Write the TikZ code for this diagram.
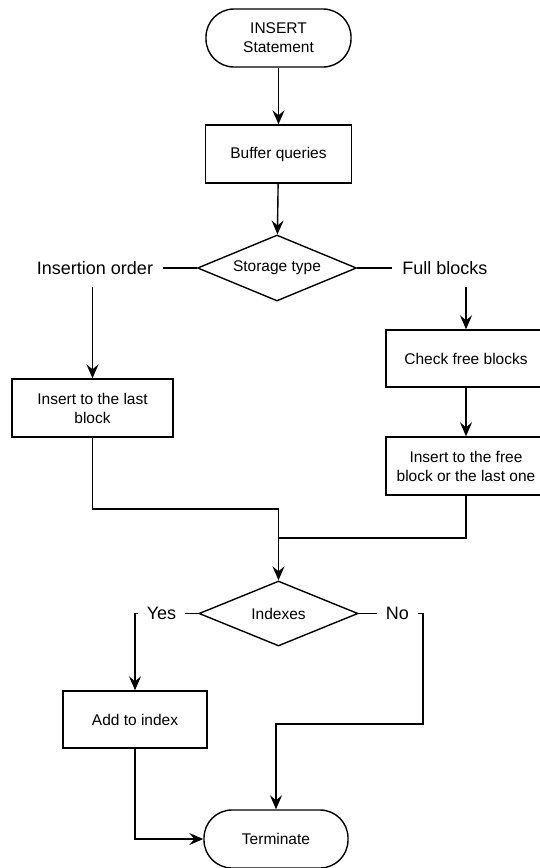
\documentclass[tikz,border=0pt]{standalone}
\usepackage{fontspec}
\setmainfont{Liberation Sans}
\usetikzlibrary{shapes.geometric,arrows.meta}
\begin{document}
\begin{tikzpicture}[x=1pt,y=-1pt,
  every node/.style={font=\fontsize{15.5}{19}\selectfont, align=center, inner sep=0pt},
  box/.style={draw, line width=1.4pt, minimum height=58pt},
  term/.style={draw, line width=1.4pt, rounded corners=28pt, minimum height=58pt},
  dec/.style={draw, line width=1.4pt, diamond, shape aspect=2.4, minimum width=159pt, minimum height=66pt, inner sep=0pt},
  lbl/.style={fill=white, font=\fontsize{18}{21}\selectfont, inner xsep=10pt, minimum height=38pt},
  ln/.style={line width=1.4pt},
  arr/.style={ln, -{Stealth[length=14pt,width=12pt,inset=5pt]}}]
\useasboundingbox (0,0) rectangle (539,868);
\node[term, minimum width=145pt] (start) at (278.5,38) {INSERT\\Statement};
\node[box, minimum width=146pt] (buffer) at (278.5,154) {Buffer queries};
\node[dec] (storage) at (277,268) {Storage type};
\node[box, minimum width=161pt] (ilast) at (92.5,408) {Insert to the last\\block};
\node[box, minimum width=160pt, minimum height=57pt] (checkfree) at (466,358.5) {Check free blocks};
\node[box, minimum width=160pt] (ifree) at (466,466) {Insert to the free\\block or the last one};
\node[dec, minimum height=65pt] (indexes) at (278.5,613.5) {Indexes};
\node[box, minimum width=144pt, minimum height=57pt] (addidx) at (135,719.5) {Add to index};
\node[term, minimum width=144pt] (termn) at (276,839) {Terminate};
\coordinate (m1) at (278.5,509);
\coordinate (m2) at (278.5,538);
\coordinate (nb) at (423,724);
\draw[arr] (start) -- (buffer);
\draw[arr] (buffer) -- (storage);
\draw[arr] (storage.west) -| (ilast.north);
\draw[arr] (storage.east) -| (checkfree.north);
\draw[arr] (checkfree) -- (ifree);
\draw[arr] (ilast.south) |- (m1) -- (indexes.north);
\draw[ln] (ifree.south) |- (m2);
\draw[arr] (indexes.west) -| (addidx.north);
\draw[arr] (indexes.east) -| (nb) -| (termn.north);
\draw[arr] (addidx.south) |- (termn.west);
\node[lbl] (lio) at (95,268) {Insertion order};
\node[lbl] (lfb) at (445,268) {Full blocks};
\node[lbl, minimum height=20pt, inner xsep=9pt] (lyes) at (161.5,613) {Yes};
\node[lbl, minimum height=20pt, inner xsep=9pt] (lno) at (397.5,613) {No};
\end{tikzpicture}
\end{document}
